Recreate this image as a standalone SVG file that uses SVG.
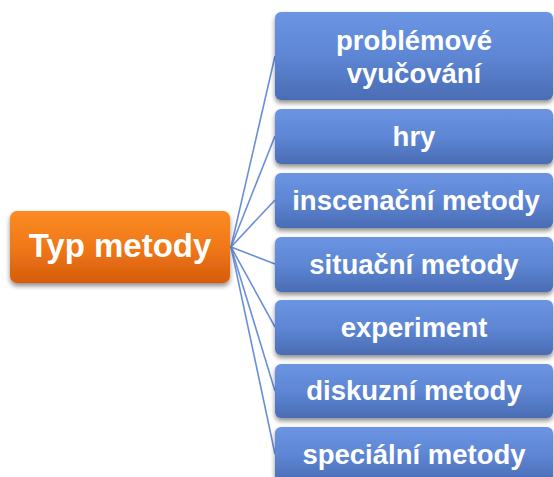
<svg xmlns="http://www.w3.org/2000/svg" width="554" height="477" viewBox="0 0 554 477">
<defs>
<linearGradient id="gBlue" x1="0" y1="0" x2="0" y2="1">
<stop offset="0" stop-color="#6b95e3"/>
<stop offset="0.5" stop-color="#5d86d4"/>
<stop offset="1" stop-color="#4a6cb4"/>
</linearGradient>
<linearGradient id="gOrange" x1="0" y1="0" x2="0" y2="1">
<stop offset="0" stop-color="#fb8b24"/>
<stop offset="0.5" stop-color="#f07818"/>
<stop offset="1" stop-color="#d65c0c"/>
</linearGradient>
<filter id="sh" x="-10%" y="-20%" width="120%" height="150%">
<feGaussianBlur in="SourceAlpha" stdDeviation="2.5"/>
<feOffset dx="0" dy="3" result="b"/>
<feComponentTransfer><feFuncA type="linear" slope="0.45"/></feComponentTransfer>
<feMerge><feMergeNode/><feMergeNode in="SourceGraphic"/></feMerge>
</filter>
</defs>
<style>
.bx{fill:url(#gBlue);filter:url(#sh)}
.ob{fill:url(#gOrange);filter:url(#sh)}
.t{font-family:"Liberation Sans",Arial,sans-serif;font-weight:bold;fill:#ffffff;text-anchor:middle}
.s{font-size:27.5px}
.c{stroke:#6a8fd8;stroke-width:1.6;fill:none}
</style>
<g id="connectors">
<line class="c" x1="231" y1="247" x2="275" y2="56"/>
<line class="c" x1="231" y1="247" x2="275" y2="136"/>
<line class="c" x1="231" y1="247" x2="275" y2="200"/>
<line class="c" x1="231" y1="247" x2="275" y2="264"/>
<line class="c" x1="231" y1="247" x2="275" y2="327"/>
<line class="c" x1="231" y1="247" x2="275" y2="391"/>
<line class="c" x1="231" y1="247" x2="275" y2="454"/>
</g>
<g id="root">
<rect class="ob" x="10" y="211" width="220" height="72" rx="7"/>
<text class="t" x="120" y="257" font-size="33">Typ metody</text>
</g>
<g id="n1">
<rect class="bx" x="275" y="12" width="278" height="88" rx="6"/>
<text class="t s" x="414" y="50">problémové</text>
<text class="t s" x="414" y="83">vyučování</text>
</g>
<g id="n2">
<rect class="bx" x="275" y="109" width="278" height="55" rx="6"/>
<text class="t s" x="414" y="146">hry</text>
</g>
<g id="n3">
<rect class="bx" x="275" y="173" width="278" height="55" rx="6"/>
<text class="t s" x="416" y="210">inscenační metody</text>
</g>
<g id="n4">
<rect class="bx" x="275" y="237" width="278" height="55" rx="6"/>
<text class="t s" x="414" y="274">situační metody</text>
</g>
<g id="n5">
<rect class="bx" x="275" y="300" width="278" height="55" rx="6"/>
<text class="t s" x="414" y="337">experiment</text>
</g>
<g id="n6">
<rect class="bx" x="275" y="364" width="278" height="54" rx="6"/>
<text class="t s" x="414" y="400">diskuzní metody</text>
</g>
<g id="n7">
<rect class="bx" x="275" y="427" width="278" height="55" rx="6"/>
<text class="t s" x="414" y="464">speciální metody</text>
</g>
</svg>
